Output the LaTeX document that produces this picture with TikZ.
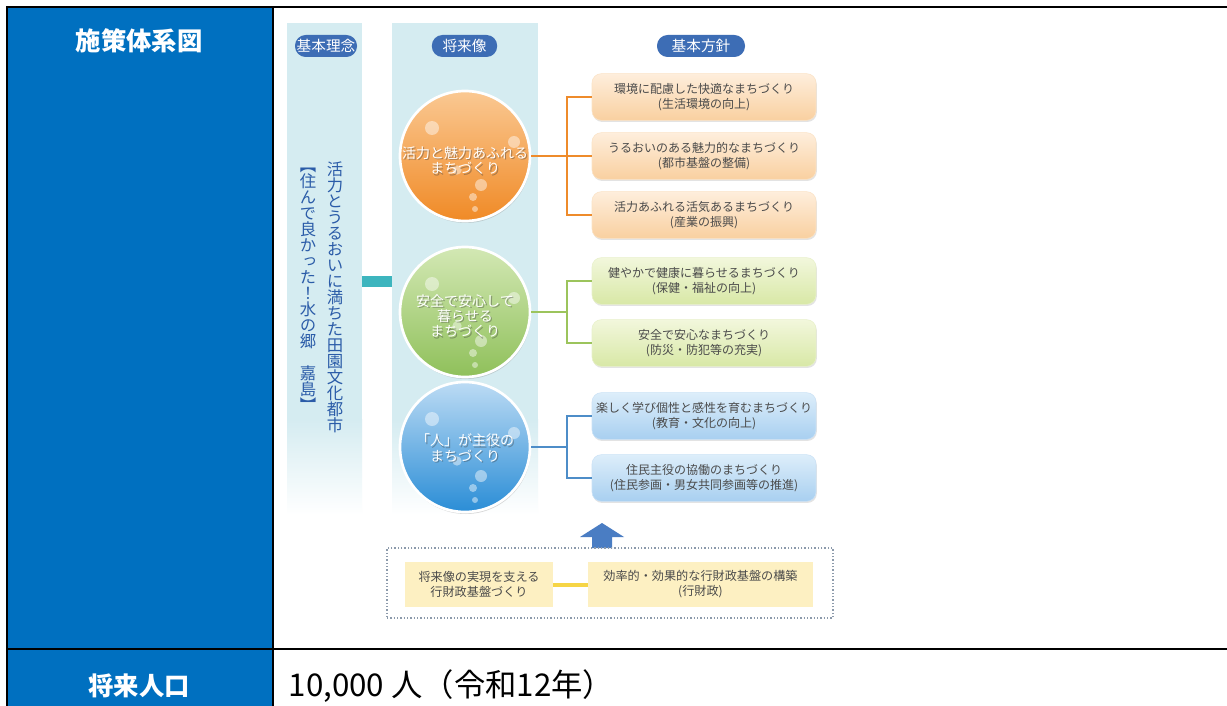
\documentclass[tikz,border=0pt]{standalone}
\usepackage{fontspec}
\setmainfont{Noto Sans CJK JP}
\newfontfamily\vjp[RawFeature=+vert]{Noto Sans CJK JP}
\usetikzlibrary{shadows}
\definecolor{hdrblue}{HTML}{0070C0}
\definecolor{band}{HTML}{D5ECF1}
\definecolor{pill}{HTML}{3D6DB5}
\definecolor{vtext}{HTML}{2B5CA8}
\definecolor{tealbar}{HTML}{3DB5BE}
\definecolor{orline}{HTML}{EE8B2B}
\definecolor{grline}{HTML}{9CC45C}
\definecolor{blline}{HTML}{4D8DC8}
\definecolor{ortop}{HTML}{FEEEDC}
\definecolor{orbot}{HTML}{F9D0A0}
\definecolor{grtop}{HTML}{F2F7DC}
\definecolor{grbot}{HTML}{D8E8A6}
\definecolor{bltop}{HTML}{DDEEFA}
\definecolor{blbot}{HTML}{A8CFF0}
\definecolor{btext}{HTML}{4A4A4A}
\definecolor{ylfill}{HTML}{FDF0C2}
\definecolor{ylline}{HTML}{F6D545}
\definecolor{arrowblue}{HTML}{4A7DC3}
\definecolor{framegray}{HTML}{8C9AAB}
\definecolor{corA}{HTML}{FAC892}
\definecolor{corB}{HTML}{F08A26}
\definecolor{cgrA}{HTML}{D3E8B4}
\definecolor{cgrB}{HTML}{8FC05A}
\definecolor{cblA}{HTML}{BCDBF4}
\definecolor{cblB}{HTML}{2A8DD6}
\makeatletter
\newcommand\tate[1]{\@tate#1\@nil}
\def\@tate#1{\ifx#1\@nil\else#1\par\expandafter\@tate\fi}
\makeatother
\begin{document}
\begin{tikzpicture}[x=0.75pt,y=-0.75pt,
  tbl/.style={line width=1.9pt, black},
  hdr/.style={text=white, font=\bfseries\fontsize{19}{19}\selectfont},
  pillbox/.style={fill=pill, text=white, rounded corners=8pt, minimum height=16.5pt, inner sep=1pt, font=\fontsize{11}{11}\selectfont},
  vtxt/.style={text width=14pt, align=center, inner sep=0pt, text=vtext, font={\vjp\fontsize{12.3}{12}\selectfont\parindent=0pt}},
  circ/.style={circle, minimum size=97.5pt, inner sep=0pt, draw=white, line width=2pt, shading angle=35,
     drop shadow={opacity=0.3, shadow xshift=0.6pt, shadow yshift=-1.5pt}},
  ctext/.style={text=white, align=center, font=\fontsize{10.5}{11.5}\selectfont},
  ctexts/.style={ctext, text=black!75, opacity=0.4},
  bubble/.style={circle, fill=white, opacity=0.45, inner sep=0pt},
  pbox/.style={rounded corners=7pt, minimum width=168pt, minimum height=35pt, align=center, inner sep=2pt,
     text=btext, font=\fontsize{9}{11.25}\selectfont,
     drop shadow={opacity=0.22, shadow xshift=0.6pt, shadow yshift=-1.2pt}},
  obox/.style={pbox, top color=ortop, bottom color=orbot, draw=orbot!60!white, line width=0.4pt},
  gbox/.style={pbox, top color=grtop, bottom color=grbot, draw=grbot!60!white, line width=0.4pt},
  bbox/.style={pbox, top color=bltop, bottom color=blbot, draw=blbot!60!white, line width=0.4pt},
  conn/.style={line width=1.4pt},
  ybox/.style={fill=ylfill, minimum height=33.75pt, align=center, inner sep=2pt, text=btext, font=\fontsize{9.1}{11.25}\selectfont},
  frame/.style={draw=framegray, line width=0.9pt, dash pattern=on 0.9pt off 1.6pt, minimum width=334.5pt, minimum height=52.5pt}
]
\useasboundingbox (0,0) rectangle (1227,706);
\fill[white] (0,0) rectangle (1227,706);
% table
\fill[hdrblue] (7,7) rectangle (273,706);
\draw[tbl] (7,706) -- (7,7) -- (1227,7);
\draw[tbl] (273,7) -- (273,706);
\draw[tbl] (7,649) -- (1227,649);
\node[hdr] (h1) at (139,41) {施策体系図};
\node[hdr] (h2) at (139,686) {将来人口};
\node[anchor=west, font=\fontsize{23.5}{23.5}\selectfont] (pop) at (284,686) {10,000 人（令和12年）};
% bands
\fill[band] (287,23) rectangle (362,420);
\shade[top color=band, bottom color=white] (287,419.5) rectangle (362,515);
\fill[band] (392,23) rectangle (538,420);
\shade[top color=band, bottom color=white] (392,419.5) rectangle (538,515);
\fill[tealbar] (362,276) rectangle (392,287);
% pills
\node[pillbox, minimum width=46.5pt] (p1) at (326,46) {基本理念};
\node[pillbox, minimum width=49pt] (p2) at (464.5,46) {将来像};
\node[pillbox, minimum width=66pt] (p3) at (701,46) {基本方針};
% vertical texts
\node[vtxt] (v1) at (335,297) {\tate{活力とうるおいに満ちた田園文化都市}};
\node[vtxt] (v2) at (308,290) {\tate{【住んで良かった！水の郷　嘉島】}};
% circles
\node[circ, top color=corA, bottom color=corB] (c1) at (465,156) {};
\node[circ, top color=cgrA, bottom color=cgrB] (c2) at (465,312) {};
\node[circ, top color=cblA, bottom color=cblB] (c3) at (465,447) {};
\foreach \c in {c1,c2,c3}{
  \foreach \dx/\dy/\r [count=\i] in {-33/-28/10.5, 49/-14/9, 16/29/9, 8/41/6, 10/53/4.5, -8/14/7}{
    \node[bubble, minimum size=\r pt] (\c b\i) at ([shift={(\dx,\dy)}]\c.center) {};
  }
}
\node[ctexts] (c1s) at (466.3,162) {活力と魅力あふれる\\まちづくり};
\node[ctext] (c1t) at (465,160.5) {活力と魅力あふれる\\まちづくり};
\node[ctexts] (c2s) at (466.3,317.5) {安全で安心して\\暮らせる\\まちづくり};
\node[ctext] (c2t) at (465,316) {安全で安心して\\暮らせる\\まちづくり};
\node[ctexts] (c3s) at (466.3,449.5) {「人」が主役の\\まちづくり};
\node[ctext] (c3t) at (465,448) {「人」が主役の\\まちづくり};
% policy boxes
\node[obox] (o1) at (704,97) {環境に配慮した快適なまちづくり\\(生活環境の向上)};
\node[obox] (o2) at (704,156) {うるおいのある魅力的なまちづくり\\(都市基盤の整備)};
\node[obox] (o3) at (704,215) {活力あふれる活気あるまちづくり\\(産業の振興)};
\node[gbox] (g1) at (704,281) {健やかで健康に暮らせるまちづくり\\(保健・福祉の向上)};
\node[gbox] (g2) at (704,343) {安全で安心なまちづくり\\(防災・防犯等の充実)};
\node[bbox] (b1) at (704,416) {楽しく学び個性と感性を育むまちづくり\\(教育・文化の向上)};
\node[bbox] (b2) at (704,478) {住民主役の協働のまちづくり\\(住民参画・男女共同参画等の推進)};
% connectors
\coordinate (jo) at (567,156);
\coordinate (jg) at (567,312);
\coordinate (jb) at (567,447);
\draw[conn, orline] (c1.east) -- (jo);
\draw[conn, orline] (o1.west) -| (jo) |- (o3.west);
\draw[conn, orline] (jo) -- (o2.west);
\draw[conn, grline] (c2.east) -- (jg);
\draw[conn, grline] (g1.west) -| (jg) |- (g2.west);
\draw[conn, blline] (c3.east) -- (jb);
\draw[conn, blline] (b1.west) -| (jb) |- (b2.west);
% bottom
\fill[arrowblue] (580,537) -- (602,523) -- (624,537) -- (612,537) -- (612,548) -- (592,548) -- (592,537) -- cycle;
\node[frame] (fr) at (610,583) {};
\node[ybox, minimum width=111pt] (y1) at (479,584.5) {将来像の実現を支える\\行財政基盤づくり};
\node[ybox, minimum width=168.75pt] (y2) at (700.5,584.5) {効率的・効果的な行財政基盤の構築\\(行財政)};
\draw[ylline, line width=3pt] (y1.east) -- (y2.west);
\end{tikzpicture}
\end{document}
